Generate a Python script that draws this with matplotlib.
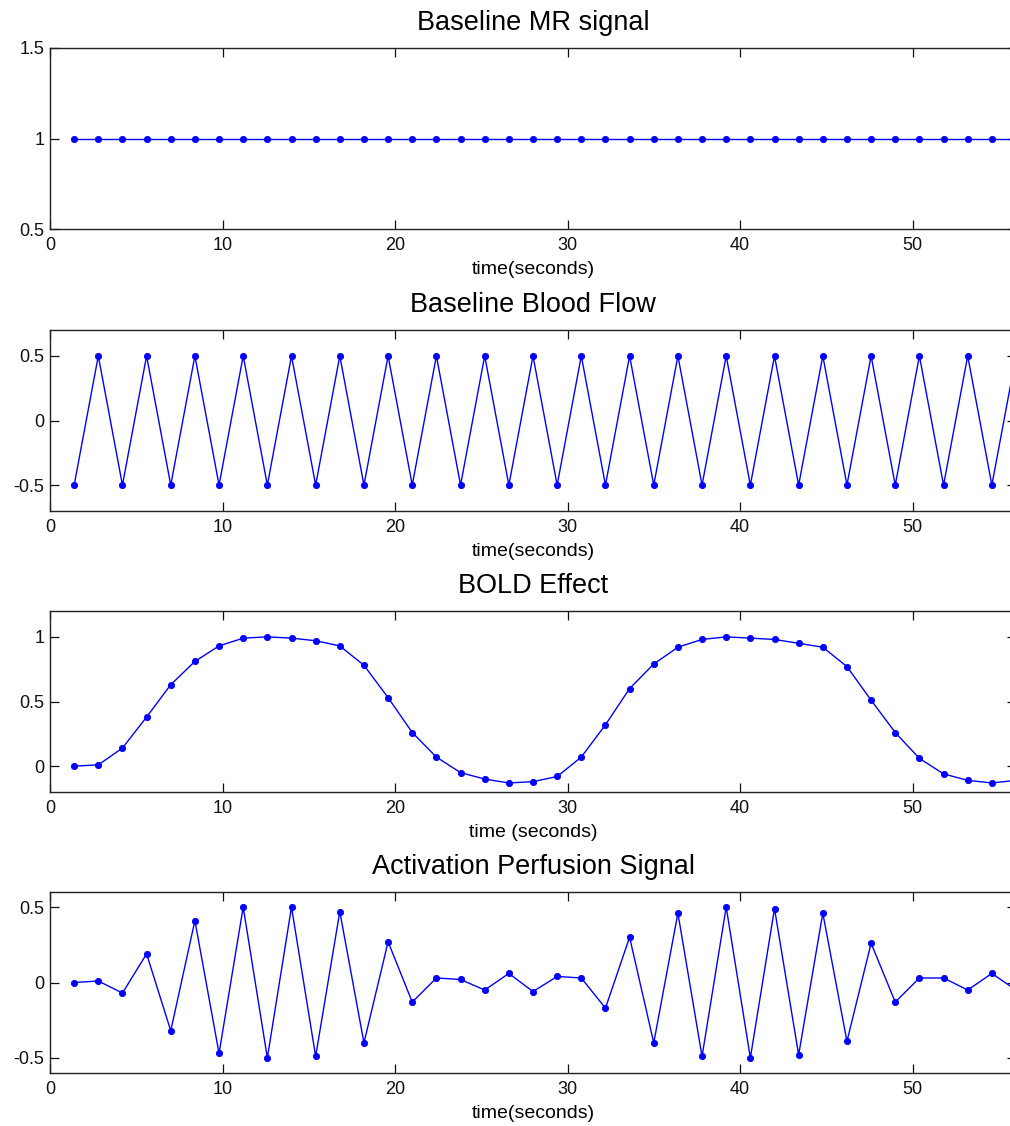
import matplotlib
matplotlib.use("Agg")
import matplotlib.pyplot as plt

plt.rcParams['font.family'] = ['Liberation Sans', 'DejaVu Sans']

# Sample times (TR = 1.4 s)
time_s = [1.4, 2.8, 4.2, 5.6, 7.0, 8.4, 9.8, 11.2, 12.6, 14.0,
          15.4, 16.8, 18.2, 19.6, 21.0, 22.4, 23.8, 25.2, 26.6, 28.0,
          29.4, 30.8, 32.2, 33.6, 35.0, 36.4, 37.8, 39.2, 40.6, 42.0,
          43.4, 44.8, 46.2, 47.6, 49.0, 50.4, 51.8, 53.2, 54.6, 56.0]

baseline_mr = [1.0] * 40

baseline_flow = [-0.5, 0.5, -0.5, 0.5, -0.5, 0.5, -0.5, 0.5, -0.5, 0.5,
                 -0.5, 0.5, -0.5, 0.5, -0.5, 0.5, -0.5, 0.5, -0.5, 0.5,
                 -0.5, 0.5, -0.5, 0.5, -0.5, 0.5, -0.5, 0.5, -0.5, 0.5,
                 -0.5, 0.5, -0.5, 0.5, -0.5, 0.5, -0.5, 0.5, -0.5, 0.5]

bold_effect = [0.00, 0.01, 0.14, 0.38, 0.63, 0.81, 0.93, 0.99, 1.00, 0.99,
               0.97, 0.93, 0.78, 0.53, 0.26, 0.07, -0.05, -0.10, -0.13, -0.12,
               -0.08, 0.07, 0.32, 0.60, 0.79, 0.92, 0.98, 1.00, 0.99, 0.98,
               0.95, 0.92, 0.77, 0.51, 0.26, 0.06, -0.06, -0.11, -0.13, -0.11]

perfusion = [0.00, 0.01, -0.07, 0.19, -0.32, 0.41, -0.47, 0.50, -0.50, 0.50,
             -0.49, 0.47, -0.40, 0.27, -0.13, 0.03, 0.02, -0.05, 0.06, -0.06,
             0.04, 0.03, -0.17, 0.30, -0.40, 0.46, -0.49, 0.50, -0.50, 0.49,
             -0.48, 0.46, -0.39, 0.26, -0.13, 0.03, 0.03, -0.05, 0.06, -0.05]

panels = [
    ("Baseline MR signal", "time(seconds)", baseline_mr, (0.5, 1.5), [0.5, 1, 1.5], ["0.5", "1", "1.5"]),
    ("Baseline Blood Flow", "time(seconds)", baseline_flow, (-0.7, 0.7), [-0.5, 0, 0.5], ["-0.5", "0", "0.5"]),
    ("BOLD Effect", "time (seconds)", bold_effect, (-0.2, 1.2), [0, 0.5, 1], ["0", "0.5", "1"]),
    ("Activation Perfusion Signal", "time(seconds)", perfusion, (-0.6, 0.6), [-0.5, 0, 0.5], ["-0.5", "0", "0.5"]),
]

W, H = 1010, 1126
fig = plt.figure(figsize=(W / 100, H / 100), dpi=100)

left_px, right_px = 50, 1016
bottoms_px = [229, 511, 792, 1073]
height_px = 181

for (title, xlabel, values, ylim, yticks, ylabels), bpx in zip(panels, bottoms_px):
    ax = fig.add_axes([left_px / W, (H - bpx) / H, (right_px - left_px) / W, height_px / H])
    ax.plot(time_s, values, color="#0000ff", linewidth=1.0,
            marker="o", markersize=4.5, markeredgewidth=0.6)
    ax.set_xlim(0, 56)
    ax.set_ylim(*ylim)
    ax.set_xticks([0, 10, 20, 30, 40, 50])
    ax.set_xticklabels(["0", "10", "20", "30", "40", "50"])
    ax.set_yticks(yticks)
    ax.set_yticklabels(ylabels)
    ax.tick_params(direction="in", length=6.5, width=0.9, top=True, right=True,
                   labelsize=13, colors="#111111")
    ax.tick_params(axis="x", pad=6)
    ax.tick_params(axis="y", pad=4)
    for s in ax.spines.values():
        s.set_linewidth(1.0)
        s.set_color("#222222")
    ax.set_title(title, fontsize=19.5, pad=13)
    ax.set_xlabel(xlabel, fontsize=14, labelpad=4.5)

fig.savefig("out.png", dpi=100)
